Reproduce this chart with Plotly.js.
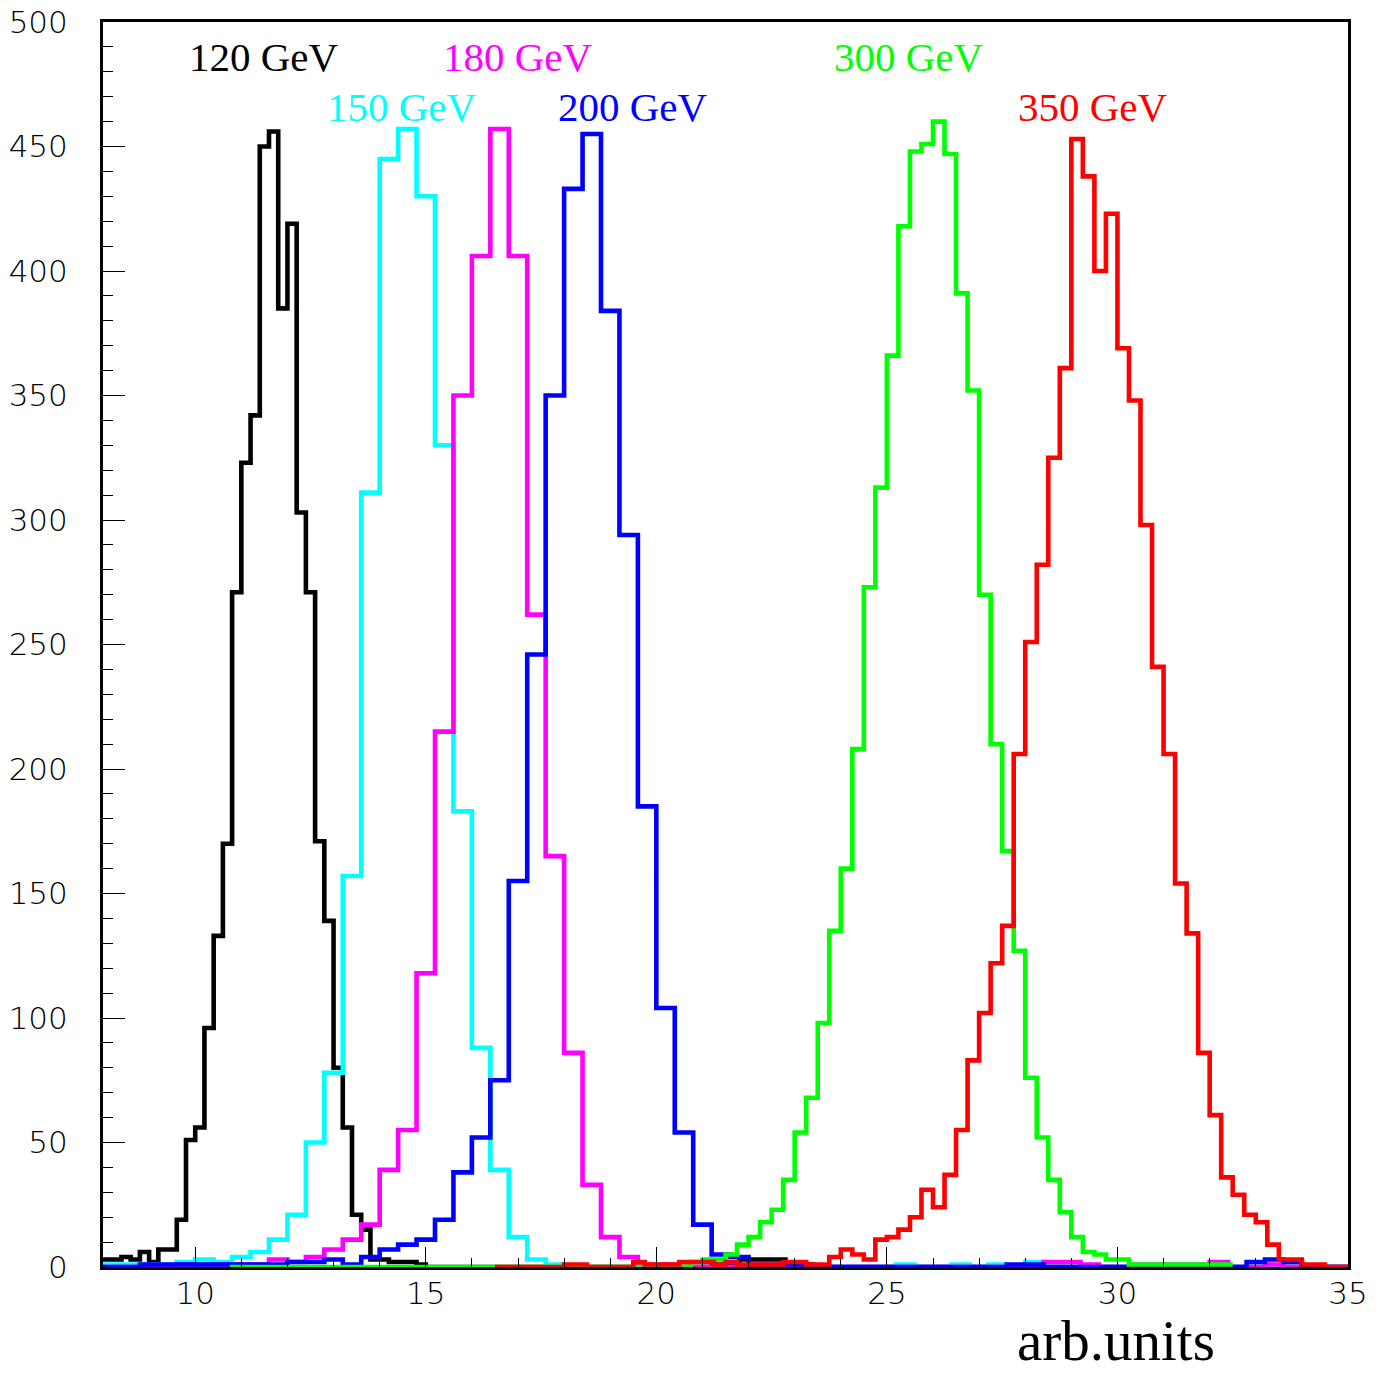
<!DOCTYPE html>
<html><head><meta charset="utf-8">
<script src="https://cdn.plot.ly/plotly-3.0.1.min.js"></script>
<style>html,body{margin:0;padding:0;background:#fff}#chart{width:1384px;height:1374px}</style>
</head><body><div id="chart"></div>
<script>
// Series names
const seriesLabels = ['120 GeV', '150 GeV', '180 GeV', '200 GeV', '300 GeV', '350 GeV'];
// Histogram binning (lower edge of first bin, bin width) in arb.units
const binStart = [8.0, 8.0, 8.0, 8.0, 10.75, 16.5];
const binWidth = [0.2, 0.4, 0.4, 0.4, 0.25, 0.25];

// Bin contents
const counts120 = [3,3,4,3,6,2,7,7,19,51,56,96,133,170,271,323,342,450,456,385,419,303,271,171,139,80,56,21,15,3,3,2,2,2,1,
  0,0,0,0,0,0,0,0,0,0,0,0,0,0,0,0,0,0,0,0,0,0,0,0,0,0,0,0,0,0,0,
  1,1,1,3,3,3,3,3,1,1,1,
  0,0,0,0,0,0,0,0,0,0,0,0,0,0,0,0,0,0,0,0,0,0,0,0,0,0,0,0,0,0,0,0,0,0,0,0,0,0,0,0,0,0,0,0,0,0,0,0,0,0,0,0,0,0,0,0,0,0];
const counts150 = [1,1,1,1,2,3,2,4,6,11,21,50,78,157,311,445,457,430,330,183,88,39,12,3,1,
  0,0,0,0,0,0,0,0,0,0,0,0,0,0,0,0,0,0,1,0,0,1,0,1,0,2,0,
  0,0,0,0,0,0,0,0,0,0,0,0,0,0,0,0];
const counts180 = [0,0,0,0,1,1,1,1,1,3,2,4,7,11,17,39,55,118,215,350,406,457,406,262,165,86,33,12,4,1,1,
  0,0,0,0,0,0,0,0,0,0,0,0,0,0,0,0,0,0,0,0,
  2,2,1,0,0,1,1,1,1,2,0,0,1,0,0,0,0];
const counts200 = [0,0,1,1,1,1,1,1,1,1,2,2,3,1,4,7,9,11,19,38,52,75,155,246,350,433,455,384,294,185,104,54,17,5,4,1,1,1,
  0,0,0,0,0,0,0,0,0,0,0,1,1,0,0,0,0,0,0,0,0,0,0,0,2,3,2,0,0,0];
const counts300 = [0,0,0,0,0,0,0,0,0,0,0,0,0,0,0,0,0,0,0,0,0,0,0,0,0,0,0,0,0,0,0,0,0,0,0,0,0,0,0,0,
  2,3,3,5,9,12,18,23,35,54,68,98,135,160,208,273,313,366,418,448,451,460,447,391,352,270,210,167,127,76,52,35,22,12,6,5,3,3,
  1,1,1,1,1,1,1,1,1];
const counts350 = [0,0,0,0,0,0,1,1,0,0,0,0,2,1,1,1,2,2,2,1,2,1,1,1,1,2,2,1,1,
  4,7,5,3,11,12,15,20,31,24,37,55,83,102,122,137,206,251,282,325,361,453,438,400,423,369,348,298,241,206,154,134,86,61,36,29,21,18,9,3,3,1,1,0,0];

const allCounts = [counts120, counts150, counts180, counts200, counts300, counts350];
const colors = ['#000000', '#00ffff', '#ff00ff', '#0000ff', '#00ff00', '#ff0000'];

function stepXY(start, width, counts) {
  const x = [], y = [];
  counts.forEach((c, i) => { x.push(start + i * width); y.push(c); });
  x.push(start + counts.length * width);
  y.push(counts[counts.length - 1]);
  return {x, y};
}

const traces = allCounts.map((c, i) => {
  const s = stepXY(binStart[i], binWidth[i], c);
  return {
    type: 'scatter', mode: 'lines', x: s.x, y: s.y, name: seriesLabels[i],
    line: {shape: 'hv', color: colors[i], width: 4.6}, hoverinfo: 'skip'
  };
});

// label placement (data coords)
const labelPos = [[11.5, 486], [14.48, 466], [17.0, 486], [19.5, 466], [25.48, 486], [29.47, 466]];
const annotations = seriesLabels.map((t, i) => ({
  text: t, x: labelPos[i][0], y: labelPos[i][1], xref: 'x', yref: 'y',
  showarrow: false, xanchor: 'center', yanchor: 'middle',
  font: {family: 'Liberation Serif, Times New Roman, serif', size: 41, color: colors[i]}
}));
annotations.push({
  text: 'arb.units', xref: 'paper', yref: 'paper', x: 0.8137, y: -0.0851,
  showarrow: false, xanchor: 'center', yanchor: 'bottom', borderpad: 0,
  font: {family: 'Liberation Serif, Times New Roman, serif', size: 57, color: '#000'}
});

const tickFont = {family: 'DejaVu Sans ExtraLight, DejaVu Sans, sans-serif', size: 31, color: '#000', weight: 200};
const xTicks = [10, 15, 20, 25, 30, 35];
const yTicks = [0, 50, 100, 150, 200, 250, 300, 350, 400, 450, 500];

const layout = {
  width: 1384, height: 1374,
  margin: {l: 103, r: 36, t: 22, b: 107},
  paper_bgcolor: '#ffffff', plot_bgcolor: '#ffffff',
  showlegend: false,
  xaxis: {
    range: [8, 35], showgrid: false, zeroline: false,
    showline: true, linewidth: 3, linecolor: '#000', mirror: true,
    ticks: 'inside', ticklen: 20, tickwidth: 1, tickcolor: '#000',
    tickvals: xTicks, ticktext: xTicks.map(String), tickfont: tickFont,
    ticklabelstandoff: -3,
    minor: {ticks: 'inside', ticklen: 9, dtick: 1, tick0: 8, tickwidth: 1, tickcolor: '#000', showgrid: false}
  },
  yaxis: {
    range: [0, 500], showgrid: false, zeroline: false,
    showline: true, linewidth: 3, linecolor: '#000', mirror: true,
    ticks: 'inside', ticklen: 22, tickwidth: 1, tickcolor: '#000',
    tickvals: yTicks, ticktext: yTicks.map(String), tickfont: tickFont,
    ticklabelstandoff: 26,
    minor: {ticks: 'inside', ticklen: 10, dtick: 10, tick0: 0, tickwidth: 1, tickcolor: '#000', showgrid: false}
  },
  annotations: annotations
};

Plotly.newPlot('chart', traces, layout, {staticPlot: true, displayModeBar: false});
</script>
</body></html>
